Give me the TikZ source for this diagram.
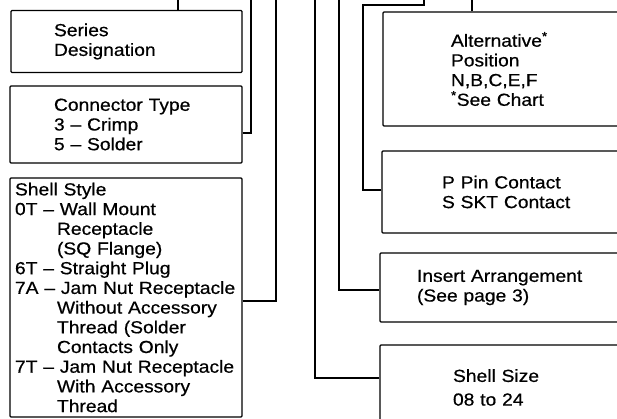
\documentclass[tikz,border=0pt]{standalone}
\usepackage{fontspec}
\setmainfont[FakeStretch=1.1,FakeBold=0.6]{Liberation Sans}
\begin{document}
\begin{tikzpicture}[x=1pt,y=-1pt,
  box/.style={draw,line width=1.3pt,rounded corners=1pt,align=left,inner sep=0pt,
    font=\fontsize{17.5}{19.7}\selectfont},
  wire/.style={line width=1.2pt}]
\useasboundingbox (0,0) rectangle (617,419);
\begin{scope}
\clip (0,0) rectangle (617,419);
% left column
\node[box,minimum width=231pt,minimum height=62pt,text width=145pt] (ser) at (126.5,41.5)
  {Series\\Designation};
\node[box,minimum width=232pt,minimum height=77pt,text width=144pt] (ctype) at (126,124.5)
  {Connector Type\\3 -- Crimp\\5 -- Solder};
\node[box,minimum width=232pt,minimum height=239pt,text width=222pt] (shell) at (126,297.5)
  {Shell Style\\
   0T -- Wall Mount\\\hspace*{42pt}Receptacle\\\hspace*{42pt}(SQ Flange)\\
   6T -- Straight Plug\\
   7A -- Jam Nut Receptacle\\\hspace*{42pt}Without Accessory\\\hspace*{42pt}Thread (Solder\\\hspace*{42pt}Contacts Only\\
   7T -- Jam Nut Receptacle\\\hspace*{42pt}With Accessory\\\hspace*{42pt}Thread};
% right column
\node[box,minimum width=317pt,minimum height=114pt,text width=181pt] (alt) at (541.5,69)
  {Alternative\textsuperscript{*}\\Position\\N,B,C,E,F\\\textsuperscript{*}See Chart};
\node[box,minimum width=318pt,minimum height=82pt,text width=198pt] (pin) at (541,192)
  {P Pin Contact\\S SKT Contact};
\node[box,minimum width=320pt,minimum height=69pt,text width=246pt] (ins) at (540,287.5)
  {Insert Arrangement\\(See page 3)};
\node[box,minimum width=320pt,minimum height=85pt,text width=174pt] (size) at (540,387.5)
  {Shell Size\\[4pt]08 to 24};
% top ends and bends
\coordinate (t1) at (178,0);
\coordinate (t2) at (251,0);
\coordinate (t3) at (276,0);
\coordinate (t4) at (315,0);
\coordinate (t5) at (339,0);
\coordinate (t6) at (424,0);
\coordinate (t7) at (472,0);
\coordinate (b2) at (251,133);
\coordinate (b3) at (276,301);
\coordinate (b4) at (315,378);
\coordinate (b5) at (339,290);
\coordinate (b6) at (363,190);
\coordinate (k6) at (363,5);
% connectors
\draw[wire] (ser.north -| t1) -- (t1);
\draw[wire] (ctype.east |- b2) -- (b2) -- (t2);
\draw[wire] (shell.east |- b3) -- (b3) -- (t3);
\draw[wire] (size.west |- b4) -- (b4) -- (t4);
\draw[wire] (ins.west |- b5) -- (b5) -- (t5);
\draw[wire] (pin.west |- b6) -- (b6) -- (k6) -| (t6);
\draw[wire] (alt.north -| t7) -- (t7);
\end{scope}
\end{tikzpicture}
\end{document}
